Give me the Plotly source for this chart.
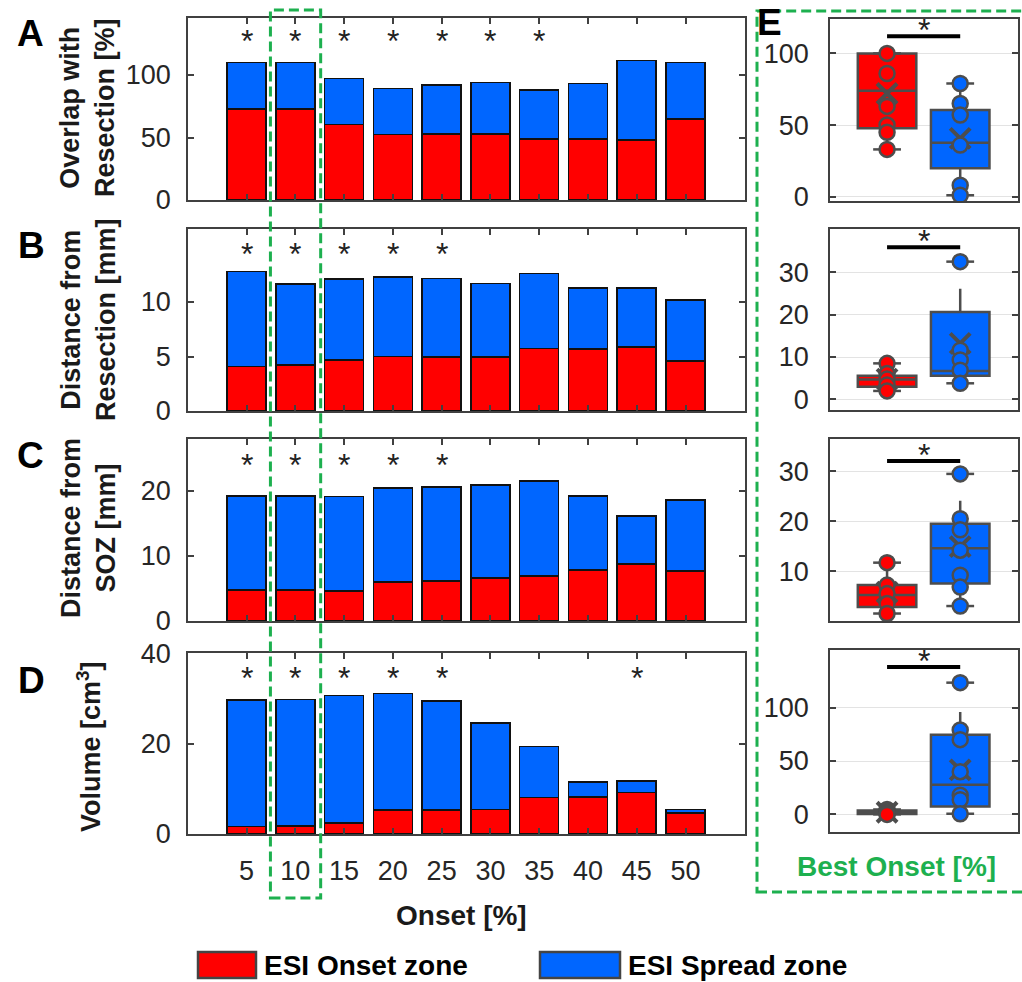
import plotly.graph_objects as go

W, H = 1022, 982
FONT = "Liberation Sans, Arial, sans-serif"
RED = "#ff0000"
BLUE = "#0066ff"
GRAY = "#4d4d4d"
AX = "#404040"
GREEN = "#1db04f"
TXT = "#1a1a1a"

# ---------------- data ----------------
onset_pct = [5, 10, 15, 20, 25, 30, 35, 40, 45, 50]

A_onset = [72.8, 72.8, 60.5, 52.5, 52.8, 52.8, 48.8, 48.8, 48.0, 64.8]
A_spread = [37.3, 37.3, 36.8, 36.8, 39.2, 41.1, 39.2, 44.5, 63.5, 45.3]
B_onset = [4.08, 4.23, 4.69, 5.0, 4.94, 4.94, 5.74, 5.67, 5.89, 4.6]
B_spread = [8.72, 7.43, 7.41, 7.27, 7.21, 6.75, 6.86, 5.59, 5.37, 5.6]
C_onset = [4.77, 4.77, 4.6, 6.0, 6.1, 6.56, 6.87, 7.8, 8.77, 7.7]
C_spread = [14.43, 14.43, 14.5, 14.4, 14.5, 14.34, 14.63, 11.4, 7.38, 10.9]
D_onset = [1.64, 1.8, 2.5, 5.3, 5.3, 5.4, 8.1, 8.2, 9.2, 4.6]
D_spread = [28.06, 28.1, 28.3, 25.9, 24.2, 19.2, 11.3, 3.3, 2.6, 0.8]

A_stars = [5, 10, 15, 20, 25, 30, 35]
B_stars = [5, 10, 15, 20, 25]
C_stars = [5, 10, 15, 20, 25]
D_stars = [5, 10, 15, 20, 25, 45]
star_levels = [129.6, 14.7, 24.4, 35.3]

best_onset = 10

# box stats: [lower whisker, q1, median, q3, upper whisker, mean]
E1_onset_pts = [100, 86, 63, 50, 45, 33]
E1_spread_pts = [79, 65, 57, 36, 8, 1]
E1_onset_box = [33, 47.7, 74, 100, 100, 72]
E1_spread_box = [2.3, 19.8, 37.7, 60.5, 77, 40.7]

E2_onset_pts = [8.5, 6.1, 4.8, 3.4, 2.0]
E2_spread_pts = [32.5, 11.6, 9.3, 6.9, 3.8]
E2_onset_box = [2.0, 3.0, 4.7, 5.6, 8.0, 4.8]
E2_spread_box = [3.4, 5.6, 6.7, 20.6, 26.1, 13.2]

E3_onset_pts = [11.7, 7.2, 5.5, 3.5, 1.5]
E3_spread_pts = [29.5, 20.5, 18.3, 14.2, 9.2, 6.8, 3.0]
E3_onset_box = [1.5, 2.8, 5.2, 7.2, 11.7, 5.8]
E3_spread_box = [2.8, 7.5, 14.6, 19.5, 24.1, 14.9]

E4_onset_pts = [4.6, 3.8, 2.6, 1.5, 0.6, 0]
E4_spread_pts = [123.4, 79, 70, 40, 18, 13.7, 0.6]
E4_onset_box = [0, 0.3, 1.9, 3.7, 4.6, 2.0]
E4_spread_box = [0.6, 7.5, 27.7, 74.5, 96, 41.7]

E_sig = [112, 35.9, 32.1, 138]

bar_titles = ["Overlap with<br>Resection [%]", "Distance from<br>Resection [mm]",
              "Distance from<br>SOZ [mm]", "Volume [cm<sup>3</sup>]"]
bar_yticks = [[0, 50, 100], [0, 5, 10], [0, 10, 20], [0, 20, 40]]
box_yticks = [[0, 50, 100], [0, 10, 20, 30], [10, 20, 30], [0, 50, 100]]
letters = ["A", "B", "C", "D", "E"]
legend_labels = ["ESI Onset zone", "ESI Spread zone"]

# ---------------- layout geometry ----------------
bar_ranges = [[0, 145.6], [0, 16.7], [0, 27.95], [0, 40.2]]
box_ranges = [[-3, 124], [-2.5, 40.2], [0, 36.5], [-16.5, 154]]
bar_xrange = [-1, 56.1]
box_xrange = [0.22, 2.79]
bar_xdom = [188 / W, 745 / W]
box_xdom = [830 / W, 1018 / W]
bar_rows = [(18, 200), (229, 411), (439, 621), (653, 834)]
box_rows = [(19, 201), (229, 410), (439, 621), (650, 832)]


def ydom(top, bottom):
    return [1 - bottom / H, 1 - top / H]


fig = go.Figure()

bars = [(A_onset, A_spread), (B_onset, B_spread), (C_onset, C_spread), (D_onset, D_spread)]
for i, (on, sp) in enumerate(bars):
    xa = "x" if i == 0 else f"x{i + 1}"
    ya = "y" if i == 0 else f"y{i + 1}"
    fig.add_trace(go.Bar(x=onset_pct, y=on, width=4, name=legend_labels[0],
                         marker=dict(color=RED, line=dict(color="#111111", width=1.6)),
                         xaxis=xa, yaxis=ya, showlegend=False))
    fig.add_trace(go.Bar(x=onset_pct, y=sp, width=4, name=legend_labels[1],
                         marker=dict(color=BLUE, line=dict(color="#111111", width=1.6)),
                         xaxis=xa, yaxis=ya, showlegend=False))

boxes = [
    (E1_onset_pts, E1_spread_pts, E1_onset_box, E1_spread_box),
    (E2_onset_pts, E2_spread_pts, E2_onset_box, E2_spread_box),
    (E3_onset_pts, E3_spread_pts, E3_onset_box, E3_spread_box),
    (E4_onset_pts, E4_spread_pts, E4_onset_box, E4_spread_box),
]
cap_half = 0.19
for i, (p_on, p_sp, b_on, b_sp) in enumerate(boxes):
    xa = f"x{i + 5}"
    ya = f"y{i + 5}"
    for pos, pts, st, col in [(1, p_on, b_on, RED), (2, p_sp, b_sp, BLUE)]:
        fig.add_trace(go.Box(x=[pos], lowerfence=[st[0]], q1=[st[1]], median=[st[2]],
                             q3=[st[3]], upperfence=[st[4]], width=0.8, orientation="v",
                             fillcolor=col, line=dict(color=GRAY, width=2.5), whiskerwidth=0,
                             xaxis=xa, yaxis=ya, showlegend=False, hoverinfo="skip"))
        capx = [pos - cap_half, pos + cap_half, None, pos - cap_half, pos + cap_half]
        capy = [min(pts), min(pts), None, max(pts), max(pts)]
        fig.add_trace(go.Scatter(x=capx, y=capy, mode="lines", line=dict(color=GRAY, width=2.5),
                                 xaxis=xa, yaxis=ya, showlegend=False, hoverinfo="skip"))
        fig.add_trace(go.Scatter(x=[pos], y=[st[5]], mode="markers",
                                 marker=dict(symbol="x-thin", size=20, line=dict(color=GRAY, width=4)),
                                 xaxis=xa, yaxis=ya, showlegend=False, hoverinfo="skip"))
        fig.add_trace(go.Scatter(x=[pos] * len(pts), y=pts, mode="markers",
                                 marker=dict(symbol="circle", size=15, color=col,
                                             line=dict(color=GRAY, width=2.5)),
                                 xaxis=xa, yaxis=ya, showlegend=False, hoverinfo="skip"))
    fig.add_trace(go.Scatter(x=[1, 2], y=[E_sig[i], E_sig[i]], mode="lines",
                             line=dict(color="#000000", width=4),
                             xaxis=xa, yaxis=ya, showlegend=False, hoverinfo="skip"))

layout = dict(
    template="none",
    width=W, height=H, margin=dict(l=0, r=0, t=0, b=0, pad=0, autoexpand=False),
    paper_bgcolor="white", plot_bgcolor="white", barmode="stack",
    font=dict(family=FONT, color=TXT), showlegend=False, hovermode=False,
)

tickfont = dict(family=FONT, size=27, color="#262626")
axis_common = dict(showline=True, linecolor=AX, linewidth=1.5, mirror="ticks", ticks="inside",
                   ticklen=6, tickcolor=AX, tickwidth=1.5, zeroline=False, showgrid=False,
                   tickfont=tickfont, automargin=False)

for i in range(4):
    xs = "xaxis" if i == 0 else f"xaxis{i + 1}"
    ys = "yaxis" if i == 0 else f"yaxis{i + 1}"
    yref = "y" if i == 0 else f"y{i + 1}"
    xref = "x" if i == 0 else f"x{i + 1}"
    layout[xs] = dict(axis_common, domain=bar_xdom, range=bar_xrange, anchor=yref,
                      tickvals=onset_pct, ticktext=[str(v) for v in onset_pct],
                      showticklabels=(i == 3), ticklabelstandoff=12)
    layout[ys] = dict(axis_common, domain=ydom(*bar_rows[i]), range=bar_ranges[i], anchor=xref,
                      tickvals=bar_yticks[i], ticklabelstandoff=10)

for i in range(4):
    n = i + 5
    layout[f"xaxis{n}"] = dict(showline=True, linecolor=AX, linewidth=1.5, mirror=True, ticks="",
                               showticklabels=False, zeroline=False, showgrid=False,
                               automargin=False,
                               domain=box_xdom, range=box_xrange, anchor=f"y{n}")
    layout[f"yaxis{n}"] = dict(axis_common, domain=ydom(*box_rows[i]), range=box_ranges[i],
                               anchor=f"x{n}", tickvals=box_yticks[i], showgrid=True,
                               gridcolor="#e3e3e3", gridwidth=1.2, ticklabelstandoff=14)

fig.update_layout(**layout)

ann = []
# stars over bars
for i, (stars, lvl) in enumerate(zip([A_stars, B_stars, C_stars, D_stars], star_levels)):
    xref = "x" if i == 0 else f"x{i + 1}"
    yref = "y" if i == 0 else f"y{i + 1}"
    for s in stars:
        ann.append(dict(x=s, y=lvl, xref=xref, yref=yref, text="*", showarrow=False,
                        font=dict(size=32, color="#222222", family=FONT), yshift=-3))
# stars over E
for i in range(4):
    n = i + 5
    ann.append(dict(x=1.5, y=E_sig[i], xref=f"x{n}", yref=f"y{n}", text="*", showarrow=False,
                    font=dict(size=32, color="#222222", family=FONT), yshift=6, yanchor="middle"))

# y-axis titles
title_pos = [(88, 108), (88, 320), (88, 528), (89, 747)]
for t, (px, py) in zip(bar_titles, title_pos):
    ann.append(dict(x=px / W, y=1 - py / H, xref="paper", yref="paper", text=f"<b>{t}</b>",
                    textangle=-90, showarrow=False, xanchor="center", yanchor="middle",
                    font=dict(size=27, color=TXT, family=FONT)))

# panel letters
letter_pos = [(30, 33), (31, 245), (30, 455), (31, 680), (769, 23)]
for l, (px, py) in zip(letters, letter_pos):
    ann.append(dict(x=px / W, y=1 - py / H, xref="paper", yref="paper", text=f"<b>{l}</b>",
                    showarrow=False, xanchor="center", yanchor="middle",
                    font=dict(size=37, color="#000000", family=FONT)))

# x titles
ann.append(dict(x=461 / W, y=1 - 915 / H, xref="paper", yref="paper", text="<b>Onset [%]</b>",
                showarrow=False, xanchor="center", yanchor="middle",
                font=dict(size=28, color=TXT, family=FONT)))
ann.append(dict(x=896 / W, y=1 - 866 / H, xref="paper", yref="paper", text="<b>Best Onset [%]</b>",
                showarrow=False, xanchor="center", yanchor="middle",
                font=dict(size=28, color=GREEN, family=FONT)))

# legend (manual)
leg_y0, leg_y1 = 1 - 978 / H, 1 - 952 / H
leg_items = [(198, 256, RED, legend_labels[0]), (540, 620, BLUE, legend_labels[1])]
shapes = []
for x0, x1, col, lab in leg_items:
    shapes.append(dict(type="rect", xref="paper", yref="paper", x0=x0 / W, x1=x1 / W,
                       y0=leg_y0, y1=leg_y1, fillcolor=col, line=dict(color="#444444", width=2.5)))
    ann.append(dict(x=(x1 + 6) / W, y=(leg_y0 + leg_y1) / 2, xref="paper", yref="paper",
                    text=f"<b>{lab}</b>", showarrow=False, xanchor="left", yanchor="middle",
                    font=dict(size=28, color="#000000", family=FONT)))

# green dashed highlight boxes
frac = (bar_xdom[1] - bar_xdom[0]) / (bar_xrange[1] - bar_xrange[0])
hx0 = bar_xdom[0] + (best_onset - 2.55 - bar_xrange[0]) * frac
hx1 = bar_xdom[0] + (best_onset + 2.6 - bar_xrange[0]) * frac
shapes.append(dict(type="rect", xref="paper", yref="paper", x0=hx0, x1=hx1,
                   y0=1 - 898 / H, y1=1 - 10 / H, line=dict(color=GREEN, width=3, dash="10px,5px"),
                   fillcolor="rgba(0,0,0,0)", layer="above"))
shapes.append(dict(type="rect", xref="paper", yref="paper", x0=757 / W, x1=1.004,
                   y0=1 - 892 / H, y1=1 - 11 / H, line=dict(color=GREEN, width=3, dash="10px,5px"),
                   fillcolor="rgba(0,0,0,0)", layer="above"))

fig.update_layout(annotations=ann, shapes=shapes)
fig.write_html("out.html", config={"displayModeBar": False},
               post_script="document.body.style.margin='0';document.body.style.padding='0';")
